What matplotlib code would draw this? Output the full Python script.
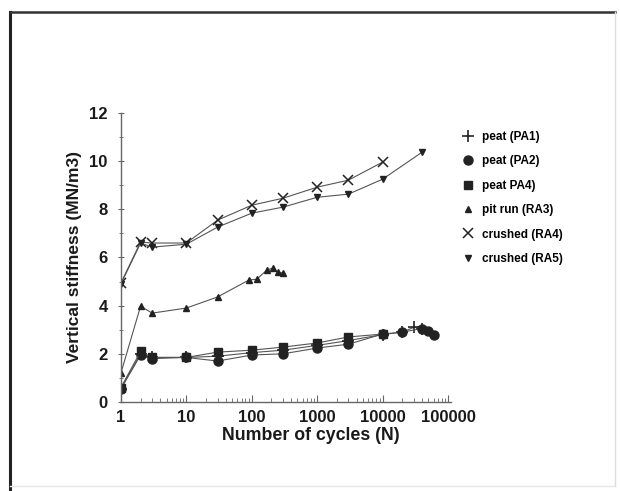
import matplotlib.pyplot as plt
from matplotlib.lines import Line2D
from matplotlib.ticker import LogLocator, NullFormatter, MultipleLocator

plt.rcParams['font.family'] = ['Liberation Sans', 'DejaVu Sans']
plt.rcParams['font.weight'] = 'bold'

# peat (PA1)
pa1_n = [1, 2, 3, 10, 30, 100, 300, 1000, 3000, 10000, 20000, 30000, 40000]
pa1_y = [0.55, 2.0, 1.85, 1.85, 1.9, 2.05, 2.15, 2.35, 2.55, 2.8, 2.9, 3.1, 3.05]

# peat (PA2)
pa2_n = [1, 2, 3, 10, 30, 100, 300, 1000, 3000, 10000, 20000, 40000, 50000, 60000]
pa2_y = [0.55, 1.95, 1.8, 1.85, 1.7, 1.95, 2.0, 2.24, 2.4, 2.82, 2.9, 3.05, 2.95, 2.8]

# peat PA4)
pa4_n = [1, 2, 3, 10, 30, 100, 300, 1000, 3000, 10000]
pa4_y = [0.6, 2.1, 1.85, 1.85, 2.07, 2.15, 2.28, 2.45, 2.7, 2.82]

# pit run (RA3)
ra3_n = [1, 2, 3, 10, 30, 90, 120, 170, 210, 250, 300]
ra3_y = [1.2, 3.98, 3.69, 3.9, 4.36, 5.06, 5.1, 5.48, 5.56, 5.39, 5.35]

# crushed (RA4)
ra4_n = [1, 2, 3, 10, 30, 100, 300, 1000, 3000, 10000]
ra4_y = [4.94, 6.64, 6.6, 6.6, 7.55, 8.17, 8.46, 8.92, 9.21, 9.96]

# crushed (RA5)
ra5_n = [1, 2, 3, 10, 30, 100, 300, 1000, 3000, 10000, 40000]
ra5_y = [4.9, 6.6, 6.43, 6.55, 7.26, 7.84, 8.09, 8.5, 8.63, 9.25, 10.37]

fig = plt.figure(figsize=(6.2, 4.91), dpi=100)
ax = fig.add_axes([0.195, 0.1813, 0.532, 0.5886])

line_c = '#555555'
mk_c = '#222222'
lw = 0.8

ax.plot(pa1_n, pa1_y, color=line_c, lw=lw, marker='+', ms=8, mec=mk_c, mew=1.2, label='peat (PA1)')
ax.plot(pa2_n, pa2_y, color=line_c, lw=lw, marker='o', ms=6.5, mfc=mk_c, mec=mk_c, label='peat (PA2)')
ax.plot(pa4_n, pa4_y, color=line_c, lw=lw, marker='s', ms=6, mfc=mk_c, mec=mk_c, label='peat PA4)')
ax.plot(ra3_n, ra3_y, color=line_c, lw=lw, marker='^', ms=4.5, mfc=mk_c, mec=mk_c, label='pit run (RA3)')
ax.plot(ra4_n, ra4_y, color=line_c, lw=lw, marker='x', ms=7, mec=mk_c, mew=1.1, label='crushed (RA4)')
ax.plot(ra5_n, ra5_y, color=line_c, lw=lw, marker='v', ms=5, mfc=mk_c, mec=mk_c, label='crushed (RA5)')

ax.set_xscale('log')
ax.set_xlim(1, 1.1e5)
ax.set_ylim(0, 12)
ax.set_xticks([1, 10, 100, 1000, 10000, 100000])
ax.set_xticklabels(['1', '10', '100', '1000', '10000', '100000'])
ax.xaxis.set_minor_locator(LogLocator(base=10, subs=range(2, 10)))
ax.xaxis.set_minor_formatter(NullFormatter())
ax.yaxis.set_major_locator(MultipleLocator(2))
ax.yaxis.set_minor_locator(MultipleLocator(1))

for s in ['top', 'right']:
    ax.spines[s].set_visible(False)
for s in ['left', 'bottom']:
    ax.spines[s].set_color('#666666')
    ax.spines[s].set_linewidth(1.0)

ax.tick_params(axis='both', which='both', colors='#666666', labelcolor='#1a1a1a', labelsize=12)
ax.tick_params(axis='x', which='major', direction='in', length=5, pad=6)
ax.tick_params(axis='x', which='minor', direction='in', length=3)
ax.tick_params(axis='y', which='major', direction='inout', length=5, pad=7)
ax.tick_params(axis='y', which='minor', direction='inout', length=3)

ax.set_xlabel('Number of cycles (N)', fontsize=12.8, fontweight='bold', color='#1a1a1a')
ax.xaxis.set_label_coords(0.575, -0.085)
ax.set_ylabel('Vertical stiffness (MN/m3)', fontsize=12.5, fontweight='bold', color='#1a1a1a', labelpad=5)

leg = ax.legend(loc='upper left', bbox_to_anchor=(0.737, 0.755), bbox_transform=fig.transFigure,
                frameon=False, handlelength=0, handletextpad=1.2, labelspacing=1.05,
                prop={'size': 8.5, 'weight': 'bold'})
for h in leg.legend_handles:
    h.set_linestyle('none')

# outer frame of the scanned page
fig.add_artist(Line2D([0.016, 0.016], [0.0, 0.976], transform=fig.transFigure, color='#222222', lw=2.2))
fig.add_artist(Line2D([0.016, 0.992], [0.976, 0.976], transform=fig.transFigure, color='#333333', lw=1.8))
fig.add_artist(Line2D([0.992, 0.992], [0.01, 0.976], transform=fig.transFigure, color='#dddddd', lw=1.0))
fig.add_artist(Line2D([0.016, 0.992], [0.01, 0.01], transform=fig.transFigure, color='#e6e6e6', lw=1.0))

fig.savefig('out.png', dpi=100)
